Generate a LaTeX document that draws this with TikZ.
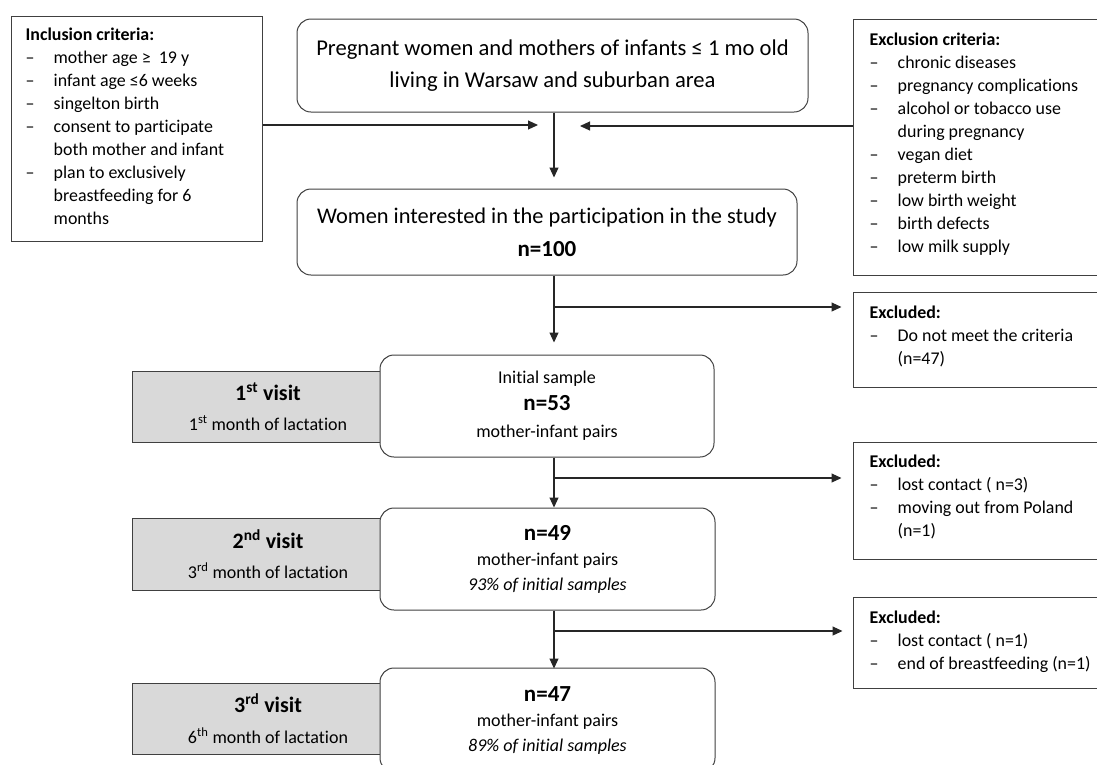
\documentclass[tikz,border=0pt]{standalone}
\usepackage{fontspec}
\setmainfont{Carlito}[Ligatures=NoCommon]
\usetikzlibrary{arrows.meta,positioning}

\newcommand{\critem}[1]{\makebox[28pt][l]{–}#1}
\newcommand{\critcont}[1]{\hspace*{28pt}#1}

\tikzset{
  flow/.style={draw=black!75, line width=1pt, rounded corners=14pt, fill=white, align=center, inner sep=0pt},
  visit/.style={draw=black!75, line width=1pt, fill=gray!30, align=center, inner sep=0pt, minimum width=272pt},
  crit/.style={draw=black!75, line width=1pt, inner sep=0pt},
  crittext/.style={align=left, inner sep=0pt, anchor=west, font=\fontsize{17.9}{23}\selectfont},
  arr/.style={draw=black!85, line width=1.1pt, -{Stealth[length=10pt,width=9pt,inset=0pt]}}
}

\begin{document}
\begin{tikzpicture}[x=1pt, y=-1pt]
    \useasboundingbox (0,0) rectangle (1097,764);
    \clip (0,0) rectangle (1097,764);
    %Criteria
    \node[crit, minimum width=251pt, minimum height=225pt] (incl) at (136.5,128.5) {};
    \node[crittext] (incltext) at ([xshift=15pt,yshift=2pt]incl.west) {\textbf{Inclusion criteria:}\\
      \critem{mother age ≥\ \ 19 y}\\ \critem{infant age ≤6 weeks}\\ \critem{singelton birth}\\
      \critem{consent to participate}\\ \critcont{both mother and infant}\\
      \critem{plan to exclusively}\\ \critcont{breastfeeding for 6}\\ \critcont{months}};
    \node[crit, minimum width=250pt, minimum height=256pt] (exclcrit) at (978,147) {};
    \node[crittext] (exclcrittext) at ([xshift=17pt,yshift=3pt]exclcrit.west) {\textbf{Exclusion criteria:}\\
      \critem{chronic diseases}\\ \critem{pregnancy complications}\\ \critem{alcohol or tobacco use}\\
      \critcont{during pregnancy}\\ \critem{vegan diet}\\ \critem{preterm birth}\\
      \critem{low birth weight}\\ \critem{birth defects}\\ \critem{low milk supply}};
    %Recruitment
    \node[flow, minimum width=511pt, minimum height=93pt, font=\fontsize{22.6}{32}\selectfont] (source) at (552.5,65.5)
      {Pregnant women and mothers of infants ≤ 1 mo old\\living in Warsaw and suburban area};
    \node[flow, minimum width=500pt, minimum height=86pt, font=\fontsize{22.4}{33}\selectfont] (interested) at (547,232)
      {Women interested in the participation in the study\\{\bfseries\fontsize{23}{33}\selectfont n=100}};
    %Visits
    \node[visit, minimum height=71pt, font=\fontsize{18}{30}\selectfont] (visitA) at (268,406.5)
      {{\bfseries\fontsize{22}{30}\selectfont 1\textsuperscript{st} visit}\\1\textsuperscript{st} month of lactation};
    \node[visit, minimum height=72pt, font=\fontsize{18}{30}\selectfont] (visitB) at (268,554)
      {{\bfseries\fontsize{22}{30}\selectfont 2\textsuperscript{nd} visit}\\3\textsuperscript{rd} month of lactation};
    \node[visit, minimum height=71pt, font=\fontsize{18}{31}\selectfont] (visitC) at (268,718.5)
      {{\bfseries\fontsize{22}{31}\selectfont 3\textsuperscript{rd} visit}\\6\textsuperscript{th} month of lactation};
    \node[flow, minimum width=334pt, minimum height=102pt, font=\fontsize{18}{27}\selectfont] (initial) at (547,406)
      {Initial sample\\{\bfseries\fontsize{23}{27}\selectfont n=53}\\mother-infant pairs};
    \node[flow, minimum width=335pt, minimum height=102pt, font=\fontsize{18}{25}\selectfont] (second) at (547.5,559)
      {{\bfseries\fontsize{23}{25}\selectfont n=49}\\mother-infant pairs\\\textit{93\% of initial samples}};
    \node[flow, minimum width=335pt, minimum height=104pt, font=\fontsize{18}{25}\selectfont] (third) at (547.5,720)
      {{\bfseries\fontsize{23}{25}\selectfont n=47}\\mother-infant pairs\\\textit{89\% of initial samples}};
    %Excluded
    \node[crit, minimum width=250pt, minimum height=95pt] (exclA) at (978,339.5) {};
    \node[crittext] (exclAtext) at ([xshift=17pt,yshift=3pt]exclA.west) {\textbf{Excluded:}\\
      \critem{Do not meet the criteria}\\ \critcont{(n=47)}};
    \node[crit, minimum width=250pt, minimum height=117pt] (exclB) at (978,500.5) {};
    \node[crittext] (exclBtext) at ([xshift=17pt,yshift=4pt]exclB.west) {\textbf{Excluded:}\\
      \critem{lost contact ( n=3)}\\ \critem{moving out from Poland}\\ \critcont{(n=1)}};
    \node[crit, minimum width=250pt, minimum height=91pt] (exclC) at (978,642.5) {};
    \node[crittext] (exclCtext) at ([xshift=17pt,yshift=1pt]exclC.west) {\textbf{Excluded:}\\
      \critem{lost contact ( n=1)}\\ \critem{end of breastfeeding (n=1)}};
    %Arrows
    \coordinate (spine) at (554,0);
    \coordinate (intip) at (538,125);
    \coordinate (extip) at (580,126);
    \coordinate (cutA) at (554,307);
    \coordinate (cutB) at (554,478);
    \coordinate (cutC) at (554,631);
    \draw[arr] (incl.east |- intip) -- (intip);
    \draw[arr] (exclcrit.west |- extip) -- (extip);
    \draw[arr, shorten >=11pt] (source.south -| spine) -- (interested.north -| spine);
    \draw[arr, shorten >=12pt] (interested.south -| spine) -- (initial.north -| spine);
    \draw[arr] (initial.south -| spine) -- (second.north -| spine);
    \draw[arr] (second.south -| spine) -- ([yshift=-1pt]third.north -| spine);
    \draw[arr, shorten >=11pt] (cutA) -- (exclA.west |- cutA);
    \draw[arr, shorten >=11pt] (cutB) -- (exclB.west |- cutB);
    \draw[arr, shorten >=10pt] (cutC) -- (exclC.west |- cutC);
\end{tikzpicture}
\end{document}
